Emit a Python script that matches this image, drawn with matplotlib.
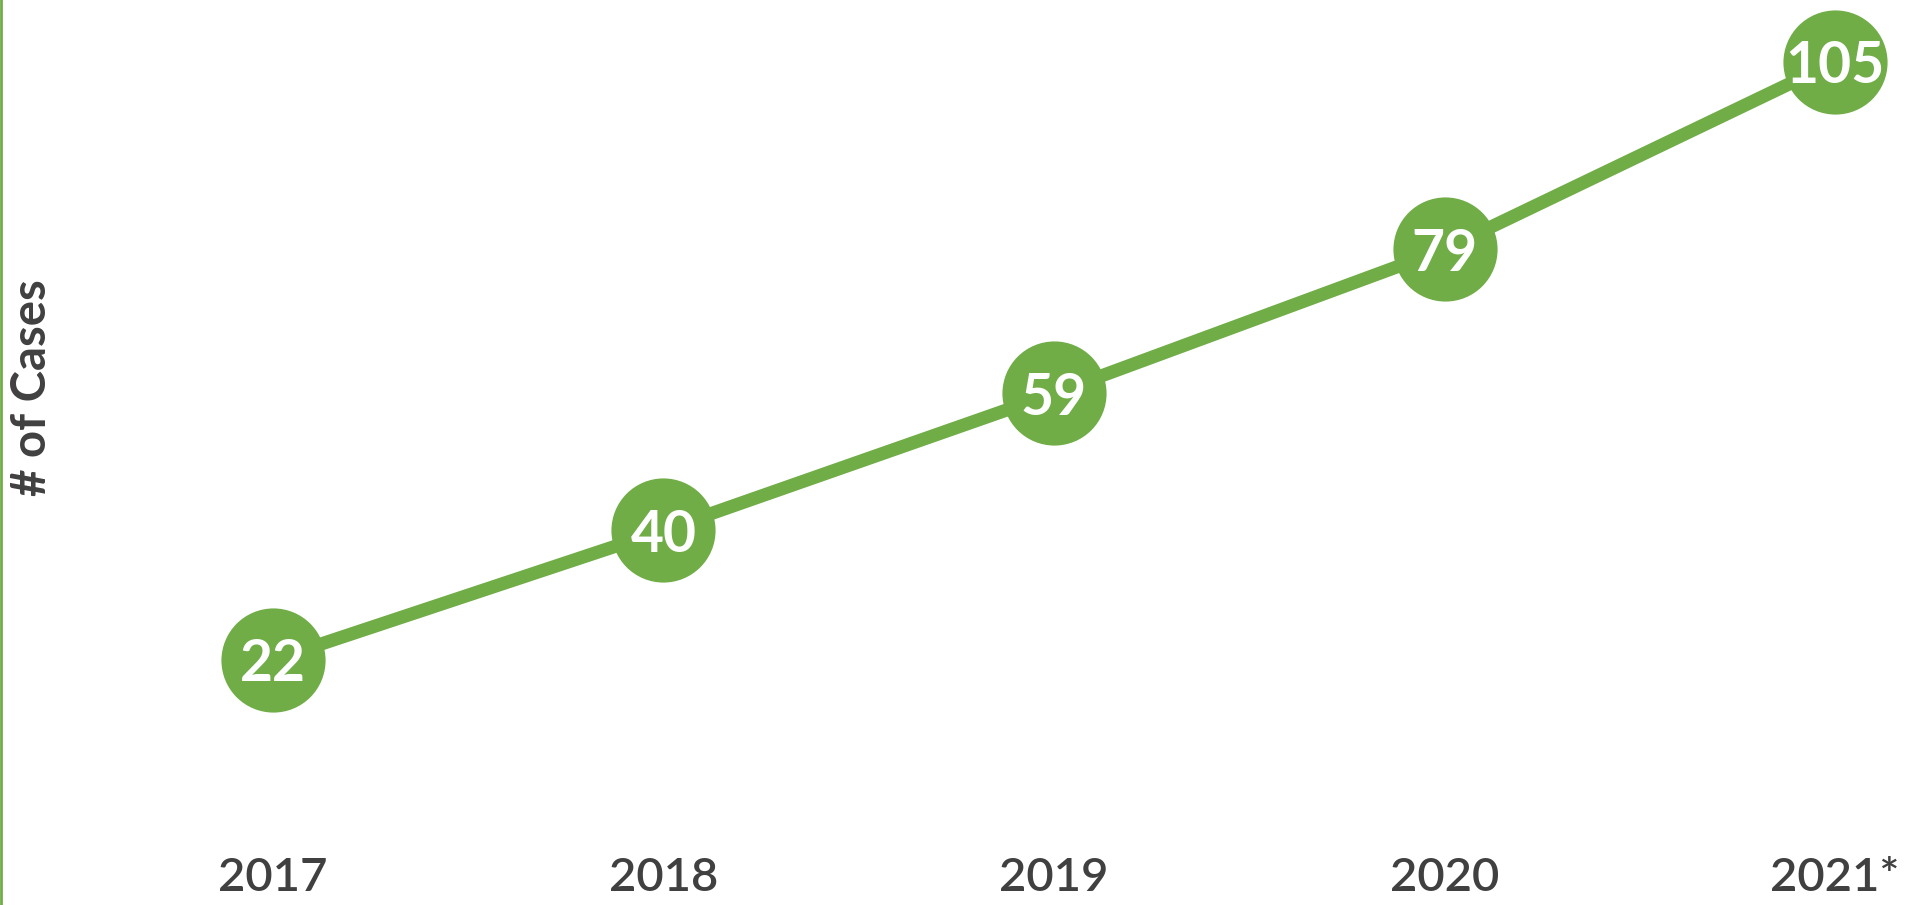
import matplotlib
matplotlib.use("Agg")
import matplotlib.pyplot as plt
from matplotlib.lines import Line2D

years = ["2017", "2018", "2019", "2020", "2021*"]
cases = [22, 40, 59, 79, 105]

GREEN = "#70AD47"
GREY = "#404040"

W, H = 1906, 905
fig = plt.figure(figsize=(W / 100, H / 100), dpi=100)
fig.patch.set_facecolor("white")

# axes placement in pixels
left_px, bottom_px = 80, 55
ax = fig.add_axes([left_px / W, bottom_px / H, (W - left_px) / W, (H - bottom_px) / H])

x = list(range(len(years)))
ax.plot(x, cases, color=GREEN, linewidth=9.5, solid_capstyle="butt", zorder=2)
ax.plot(x, cases, linestyle="none", marker="o", markersize=75,
        markerfacecolor=GREEN, markeredgewidth=0, zorder=3)
for xi, v in zip(x, cases):
    ax.text(xi, v, str(v), color="white", ha="center", va="center_baseline",
            fontsize=41, fontfamily="Lato", fontweight="bold", zorder=4)

ax.set_xlim(-0.4942, 4.1818)
ax.set_ylim(-4.372, 113.6)
ax.set_xticks(x)
ax.set_xticklabels(years, fontsize=34, fontfamily="Lato", fontweight=600, color=GREY)
ax.tick_params(axis="x", length=0, pad=5)
ax.set_yticks([])
for s in ax.spines.values():
    s.set_visible(False)

ax.set_ylabel("# of Cases", fontsize=34, fontfamily="Lato", fontweight="bold", color=GREY)
ax.yaxis.set_label_coords(-0.0142, 0.5435)

fig.add_artist(Line2D([1 / W, 1 / W], [0, 1], color=GREEN, linewidth=2,
                      transform=fig.transFigure))

fig.savefig("out.png", dpi=100, facecolor="white")
